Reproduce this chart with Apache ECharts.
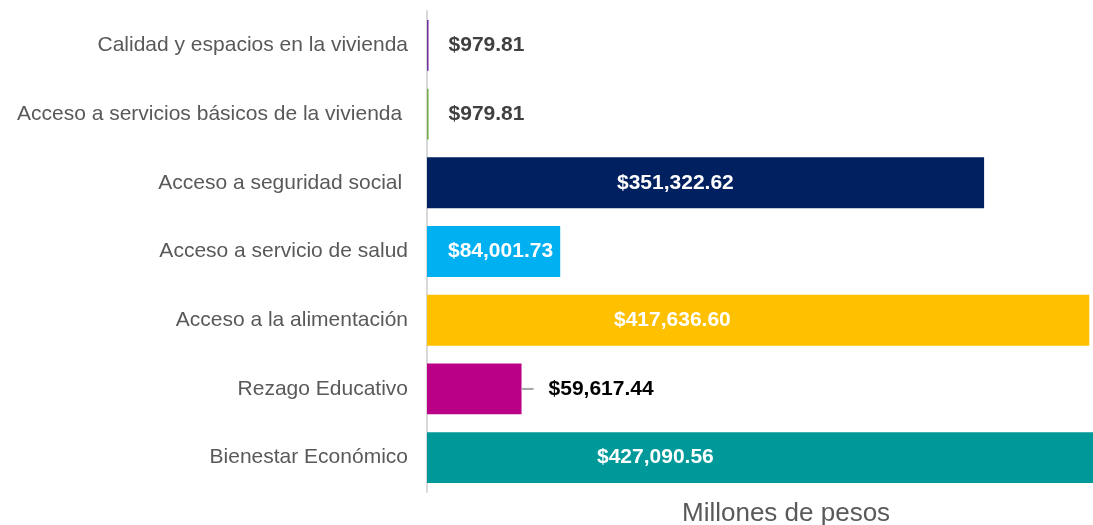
<!DOCTYPE html>
<html>
<head>
<meta charset="utf-8">
<script src="https://cdn.jsdelivr.net/npm/echarts@6/dist/echarts.min.js"></script>
<style>
  html, body { margin: 0; padding: 0; background: #fff; }
  #chart { width: 1093px; height: 525px; }
</style>
</head>
<body>
<div id="chart"></div>
<script>
// categorias de arriba hacia abajo
const categories = [
  'Calidad y espacios en la vivienda',
  'Acceso a servicios básicos de la vivienda ',
  'Acceso a seguridad social ',
  'Acceso a servicio de salud',
  'Acceso a la alimentación',
  'Rezago Educativo',
  'Bienestar Económico'
]
const values = [979.81, 979.81, 351322.62, 84001.73, 417636.60, 59617.44, 427090.56]
const barColors = ['#7030A0', '#70AD47', '#002060', '#00B0F0', '#FFC000', '#BA0087', '#009999']

const fmt = v => '$' + v.toLocaleString('en-US', {minimumFractionDigits: 2, maximumFractionDigits: 2})

const FONT = '"Liberation Sans", Arial, sans-serif'

function labelFor(i) {
  const v = values[i]
  if (i === 5) {
    // etiqueta fuera con linea guia
    return {
      show: true, position: 'right', distance: 0,
      formatter: '{l| }{v|' + fmt(v) + '}',
      rich: {
        l: {width: 12, height: 2, backgroundColor: '#A6A6A6'},
        v: {color: '#000', fontWeight: 'bold', fontSize: 21, fontFamily: FONT, padding: [0, 0, 0, 15]}
      }
    }
  }
  if (v < 10000) {
    return {show: true, position: 'right', distance: 20, color: '#404040'}
  }
  const inset = {2: 190, 3: 21, 4: 187, 6: 170}[i]
  return {show: true, position: [inset, '50%'], align: 'left', verticalAlign: 'middle', color: '#fff'}
}

const chart = echarts.init(document.getElementById('chart'))
const option = {
  animation: false,
  title: {
    text: 'Millones de pesos',
    left: 677,
    top: 496,
    textStyle: {fontSize: 26, fontWeight: 'normal', color: '#595959', fontFamily: FONT}
  },
  grid: {left: 427, right: 0, top: 11, bottom: 33},
  xAxis: {
    type: 'value',
    min: 0,
    max: 420000,
    show: false
  },
  yAxis: {
    type: 'category',
    inverse: true,
    data: categories,
    axisLine: {show: true, lineStyle: {color: '#D9D9D9', width: 2}},
    axisTick: {show: false},
    axisLabel: {margin: 19, fontSize: 21, color: '#595959', fontFamily: FONT}
  },
  series: [{
    type: 'bar',
    barCategoryGap: '26%',
    clip: true,
    label: {fontWeight: 'bold', fontSize: 21, fontFamily: FONT, formatter: p => fmt(p.value)},
    data: values.map((v, i) => ({
      value: v,
      itemStyle: {color: barColors[i]},
      label: labelFor(i)
    }))
  }]
}
chart.setOption(option, true)
</script>
</body>
</html>
